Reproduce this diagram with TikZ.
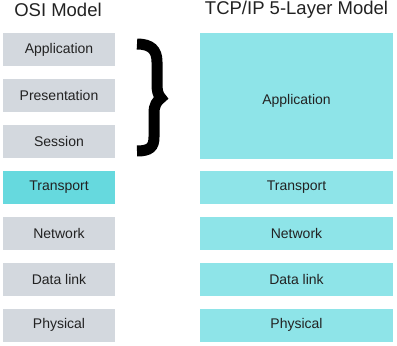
\documentclass[tikz,border=0pt]{standalone}
\usepackage{fontspec}
\setmainfont{Liberation Sans}
\definecolor{osigray}{RGB}{211,216,222}
\definecolor{transcyan}{RGB}{102,217,222}
\definecolor{tcpcyan}{RGB}{142,228,232}
\definecolor{ink}{RGB}{34,34,34}
\begin{document}
\begin{tikzpicture}[x=1pt,y=-1pt,
  layertext/.style={font=\fontsize{14}{16}\selectfont,text=ink,inner sep=0pt},
  layer/.style={layertext,draw=none,rectangle,minimum height=33pt},
  osi/.style={layer,fill=osigray,minimum width=112pt},
  tcp/.style={layer,fill=tcpcyan,minimum width=193pt},
  title/.style={font=\fontsize{18.5}{20}\selectfont,text=ink,inner sep=0pt}]
\useasboundingbox (0,0) rectangle (397,346);
% column headings
\node[title] (osititle) at (58,10) {OSI Model};
\node[title] (tcptitle) at (296.5,10) {TCP/IP 5-Layer Model};
% OSI stack
\node[osi] (oapp) at (59,49.5) {Application};
\node[osi] (opres) at (59,95.5) {Presentation};
\node[osi] (osess) at (59,141.5) {Session};
\node[osi,fill=transcyan] (otrans) at (59,187.5) {Transport};
\node[osi] (onet) at (59,233.5) {Network};
\node[osi] (olink) at (59,279.5) {Data link};
\node[osi] (ophys) at (59,325) {Physical};
% TCP/IP stack
\node[tcp,minimum height=126pt] (tapp) at (296.5,96) {};
\node[layertext] (tapplabel) at (296.5,101) {Application};
\node[tcp] (ttrans) at (296.5,187.5) {Transport};
\node[tcp] (tnet) at (296.5,233.5) {Network};
\node[tcp] (tlink) at (296.5,279.5) {Data link};
\node[tcp] (tphys) at (296.5,325) {Physical};
% brace grouping the upper three OSI layers
\draw[line width=11pt,line join=miter,miter limit=10]
  (137,44) .. controls (151,44) and (157,50) .. (157,62) -- (157,84)
  .. controls (157,91) and (158,95) .. (161,98)
  .. controls (157,101) and (154,105) .. (154,113) -- (154,137)
  .. controls (154,147) and (150,151) .. (137,151);
\end{tikzpicture}
\end{document}
